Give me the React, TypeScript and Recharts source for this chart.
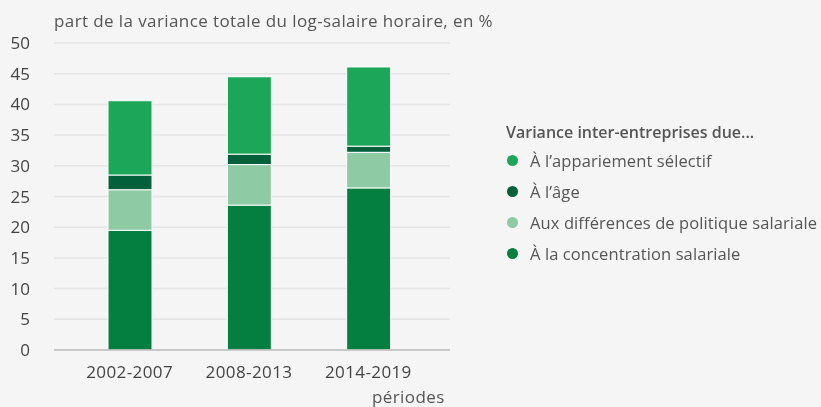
import { Bar, BarChart, CartesianGrid, XAxis, YAxis } from 'recharts'

const periodes = ['2002-2007', '2008-2013', '2014-2019']
const concentration = [19.5, 23.6, 26.4]
const politique = [6.6, 6.6, 5.8]
const age = [2.4, 1.7, 1.0]
const appariement = [12.1, 12.6, 12.9]
const yTicks = [0, 5, 10, 15, 20, 25, 30, 35, 40, 45, 50]

const series = [
  { key: 'concentration', name: 'À la concentration salariale', color: '#057f40' },
  { key: 'politique', name: 'Aux différences de politique salariale', color: '#8ecaa3' },
  { key: 'age', name: 'À l’âge', color: '#02603a' },
  { key: 'appariement', name: 'À l’appariement sélectif', color: '#1ca659' },
]

const data = periodes.map((p, i) => ({
  periode: p,
  concentration: concentration[i],
  politique: politique[i],
  age: age[i],
  appariement: appariement[i],
}))

const font = '"Open Sans", "Noto Sans", sans-serif'

function LegendBox() {
  return (
    <div style={{ position: 'absolute', left: 506, top: 120, fontFamily: font, color: '#555', whiteSpace: 'nowrap' }}>
      <div style={{ fontSize: 16, fontWeight: 600, height: 24, lineHeight: '24px', marginBottom: 1 }}>
        Variance inter-entreprises due...
      </div>
      {[...series].reverse().map((s) => (
        <div key={s.key} style={{ display: 'flex', alignItems: 'center', height: 31, fontSize: 16.5, letterSpacing: 0.1 }}>
          <span style={{ width: 11, height: 11, borderRadius: '50%', background: s.color, marginLeft: 1, marginRight: 12 }} />
          {s.name}
        </div>
      ))}
    </div>
  )
}

export default function App() {
  return (
    <div style={{ position: 'fixed', left: 0, top: 0, width: 821, height: 407, background: '#f5f5f5', fontFamily: font }}>
      <div style={{ position: 'absolute', left: 54, top: 9, fontSize: 17, letterSpacing: 0.4, color: '#555' }}>
        part de la variance totale du log-salaire horaire, en %
      </div>
      <div style={{ position: 'absolute', left: 372, top: 385, fontSize: 17, letterSpacing: 0.4, color: '#555' }}>
        périodes
      </div>
      <BarChart width={821} height={407} data={data} margin={{ top: 43, right: 371, bottom: 27, left: 0 }}>
        <CartesianGrid vertical={false} stroke="#e4e4e4" strokeWidth={1.5} />
        <XAxis
          dataKey="periode"
          height={30}
          tickLine={false}
          axisLine={{ stroke: '#bdbdbd', strokeWidth: 1.5 }}
          padding={{ left: 16, right: 22 }}
          tick={{ fill: '#444', fontSize: 17, fontFamily: font, letterSpacing: 0.4 }}
          tickMargin={10}
        />
        <YAxis
          width={54}
          domain={[0, 50]}
          ticks={yTicks}
          axisLine={false}
          tickLine={false}
          tickMargin={18}
          tick={{ fill: '#444', fontSize: 17, fontFamily: font }}
        />
        {series.map((s) => (
          <Bar
            key={s.key}
            dataKey={s.key}
            name={s.name}
            stackId="a"
            fill={s.color}
            stroke="#ffffff"
            strokeWidth={1}
            barSize={44}
            isAnimationActive={false}
          />
        ))}
      </BarChart>
      <LegendBox />
    </div>
  )
}
